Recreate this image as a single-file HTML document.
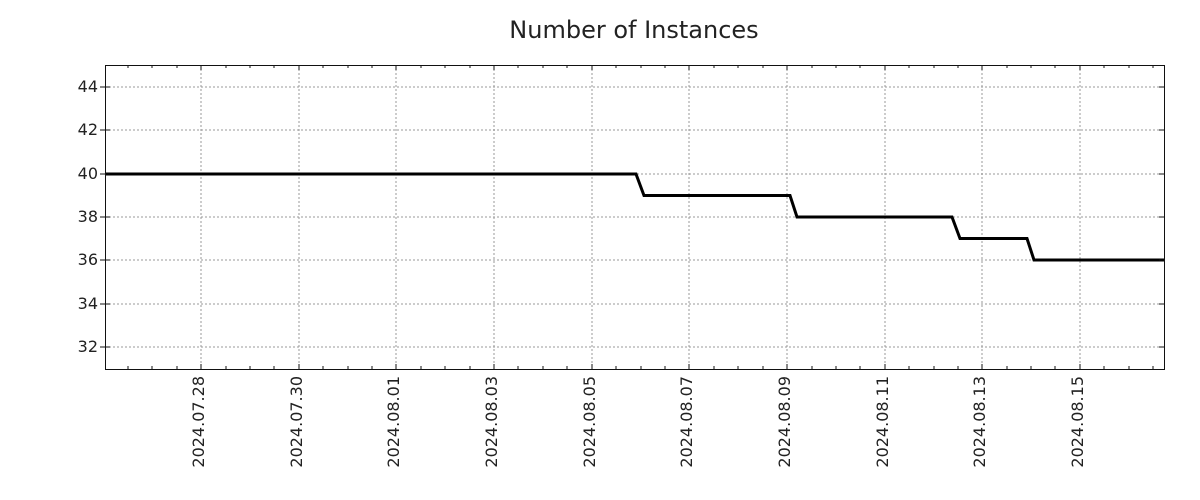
<!DOCTYPE html>
<html><head><style>html,body{margin:0;background:#fff;overflow:hidden}svg{display:block}</style></head><body>
<svg width="1200" height="500" xmlns="http://www.w3.org/2000/svg" font-family="DejaVu Sans, sans-serif">
<rect width="1200" height="500" fill="#fff"/>
<text x="634" y="38" font-size="24" text-anchor="middle" fill="#222">Number of Instances</text>
<g stroke="#999" stroke-width="1" stroke-dasharray="2,2">
<line x1="105" x2="1164" y1="87" y2="87"/><line x1="105" x2="1164" y1="130" y2="130"/><line x1="105" x2="1164" y1="174" y2="174"/><line x1="105" x2="1164" y1="217" y2="217"/><line x1="105" x2="1164" y1="260" y2="260"/><line x1="105" x2="1164" y1="304" y2="304"/><line x1="105" x2="1164" y1="347" y2="347"/>
<line y1="65" y2="369" x1="201" x2="201"/><line y1="65" y2="369" x1="299" x2="299"/><line y1="65" y2="369" x1="396" x2="396"/><line y1="65" y2="369" x1="494" x2="494"/><line y1="65" y2="369" x1="592" x2="592"/><line y1="65" y2="369" x1="689" x2="689"/><line y1="65" y2="369" x1="787" x2="787"/><line y1="65" y2="369" x1="885" x2="885"/><line y1="65" y2="369" x1="982" x2="982"/><line y1="65" y2="369" x1="1080" x2="1080"/>
</g>
<polyline fill="none" stroke="#000" stroke-width="3" points="105,174 636,174 644,195.5 790,195.5 797,217 952,217 960,238.5 1027,238.5 1034,260 1164,260"/>
<rect x="105.5" y="65.5" width="1059" height="304" fill="none" stroke="#111" stroke-width="1"/>
<g stroke="#111" stroke-width="1">
<path d="M201 369v-5M299 369v-5M396 369v-5M494 369v-5M592 369v-5M689 369v-5M787 369v-5M885 369v-5M982 369v-5M1080 369v-5M201 65v5M299 65v5M396 65v5M494 65v5M592 65v5M689 65v5M787 65v5M885 65v5M982 65v5M1080 65v5"/>
<path d="M128 369v-3M152 369v-3M177 369v-3M226 369v-3M250 369v-3M274 369v-3M323 369v-3M348 369v-3M372 369v-3M421 369v-3M445 369v-3M470 369v-3M518 369v-3M543 369v-3M567 369v-3M616 369v-3M641 369v-3M665 369v-3M714 369v-3M738 369v-3M763 369v-3M812 369v-3M836 369v-3M860 369v-3M909 369v-3M934 369v-3M958 369v-3M1007 369v-3M1031 369v-3M1055 369v-3M1104 369v-3M1129 369v-3M1153 369v-3M128 65v3M152 65v3M177 65v3M226 65v3M250 65v3M274 65v3M323 65v3M348 65v3M372 65v3M421 65v3M445 65v3M470 65v3M518 65v3M543 65v3M567 65v3M616 65v3M641 65v3M665 65v3M714 65v3M738 65v3M763 65v3M812 65v3M836 65v3M860 65v3M909 65v3M934 65v3M958 65v3M1007 65v3M1031 65v3M1055 65v3M1104 65v3M1129 65v3M1153 65v3"/>
<path d="M100 87h10M100 130h10M100 174h10M100 217h10M100 260h10M100 304h10M100 347h10M1159 87h5M1159 130h5M1159 174h5M1159 217h5M1159 260h5M1159 304h5M1159 347h5"/>
</g>
<g font-size="16" fill="#222" text-anchor="end">
<text x="98" y="92">44</text><text x="98" y="135">42</text><text x="98" y="179">40</text><text x="98" y="222">38</text><text x="98" y="265">36</text><text x="98" y="309">34</text><text x="98" y="352">32</text>
</g>
<g font-size="16" fill="#222" text-anchor="end">
<text transform="translate(204,376) rotate(-90)">2024.07.28</text>
<text transform="translate(302,376) rotate(-90)">2024.07.30</text>
<text transform="translate(399,376) rotate(-90)">2024.08.01</text>
<text transform="translate(497,376) rotate(-90)">2024.08.03</text>
<text transform="translate(595,376) rotate(-90)">2024.08.05</text>
<text transform="translate(692,376) rotate(-90)">2024.08.07</text>
<text transform="translate(790,376) rotate(-90)">2024.08.09</text>
<text transform="translate(888,376) rotate(-90)">2024.08.11</text>
<text transform="translate(985,376) rotate(-90)">2024.08.13</text>
<text transform="translate(1083,376) rotate(-90)">2024.08.15</text>
</g>
</svg>
</body></html>
